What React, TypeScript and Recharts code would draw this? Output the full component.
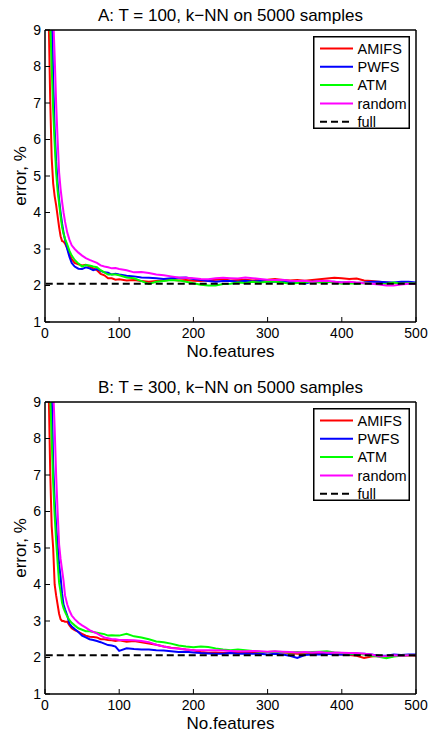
import React from 'react';
import { LineChart, Line, XAxis, YAxis, Legend } from 'recharts';

const FEATURES = [
  1, 3, 5, 7, 9, 11, 13, 15, 17, 19,
  21, 23, 25, 27, 30, 33, 36, 40, 45, 50,
  55, 60, 65, 70, 75, 80, 85, 90, 95, 100,
  110, 120, 130, 140, 150, 160, 170, 180, 190, 200,
  210, 220, 230, 240, 250, 260, 270, 280, 290, 300,
  310, 320, 330, 340, 350, 360, 370, 380, 390, 400,
  410, 420, 430, 440, 450, 460, 470, 480, 490, 500,
];

const A_AMIFS = [
  13.0, 11.0, 9.3, 7.1, 5.5, 4.8, 4.45, 4.2, 3.9, 3.6,
  3.35, 3.22, 3.2, 3.15, 3.02, 2.85, 2.72, 2.62, 2.58, 2.55,
  2.57, 2.52, 2.47, 2.42, 2.32, 2.28, 2.2, 2.2, 2.16, 2.17,
  2.14, 2.15, 2.12, 2.1, 2.12, 2.14, 2.16, 2.14, 2.15, 2.13,
  2.12, 2.14, 2.16, 2.17, 2.14, 2.15, 2.16, 2.14, 2.15, 2.16,
  2.18, 2.15, 2.14, 2.15, 2.13, 2.15, 2.17, 2.19, 2.21, 2.2,
  2.18, 2.19, 2.14, 2.12, 2.1, 2.08, 2.06, 2.08, 2.06, 2.05,
];
const A_PWFS = [
  15, 13, 11.5, 10.3, 9.6, 7.6, 6.3, 5.4, 4.8, 4.35,
  4.0, 3.7, 3.45, 3.25, 3.0, 2.78, 2.62, 2.52, 2.46, 2.45,
  2.5, 2.47, 2.42, 2.45, 2.4, 2.36, 2.35, 2.3, 2.32, 2.3,
  2.27, 2.25, 2.22, 2.21, 2.2, 2.18, 2.2, 2.21, 2.22, 2.18,
  2.15, 2.12, 2.1, 2.12, 2.12, 2.1, 2.13, 2.11, 2.12, 2.1,
  2.11, 2.1, 2.09, 2.1, 2.05, 2.1, 2.11, 2.09, 2.1, 2.08,
  2.09, 2.07, 2.08, 2.1, 2.1, 2.09, 2.08, 2.1, 2.1, 2.08,
];
const A_ATM = [
  14, 11.5, 10.2, 9.2, 8.0, 6.8, 5.9, 5.1, 4.6, 4.25,
  3.9, 3.6, 3.42, 3.28, 3.12, 2.95, 2.82, 2.7, 2.6, 2.52,
  2.56, 2.55, 2.52, 2.5, 2.42, 2.36, 2.3, 2.3, 2.3, 2.28,
  2.22, 2.2, 2.12, 2.04, 2.1, 2.12, 2.15, 2.14, 2.1, 2.06,
  2.02, 2.0, 2.0, 2.04, 2.05, 2.08, 2.07, 2.1, 2.08, 2.1,
  2.1, 2.08, 2.05, 2.07, 2.08, 2.1, 2.08, 2.1, 2.08, 2.05,
  2.06, 2.05, 2.07, 2.05, 2.04, 2.05, 2.08, 2.05, 2.06, 2.06,
];
const A_RANDOM = [
  16, 13.5, 12, 10.8, 10.0, 9.4, 8.3, 7.0, 6.0, 5.1,
  4.65, 4.3, 4.0, 3.75, 3.45, 3.25, 3.1, 3.0, 2.9, 2.82,
  2.75, 2.7, 2.66, 2.62, 2.55, 2.52, 2.5, 2.47, 2.48, 2.45,
  2.42, 2.36, 2.37, 2.34, 2.3, 2.28, 2.25, 2.22, 2.21, 2.2,
  2.18, 2.17, 2.2, 2.21, 2.2, 2.19, 2.22, 2.2, 2.18, 2.16,
  2.15, 2.16, 2.13, 2.12, 2.13, 2.1, 2.12, 2.13, 2.1, 2.08,
  2.1, 2.08, 2.06, 2.05, 2.03, 2.0, 2.0, 2.03, 2.05, 2.05,
];

const B_AMIFS = [
  13, 11, 9.3, 7.1, 5.6, 5.0, 4.0, 3.7, 3.45, 3.2,
  3.05, 3.0, 3.0, 2.98, 2.98, 2.88, 2.8, 2.75, 2.7, 2.65,
  2.6, 2.57, 2.56, 2.55, 2.5, 2.5, 2.48, 2.47, 2.45, 2.47,
  2.43, 2.45, 2.42, 2.38, 2.35, 2.3, 2.27, 2.25, 2.22, 2.2,
  2.15, 2.13, 2.14, 2.12, 2.13, 2.12, 2.14, 2.15, 2.14, 2.15,
  2.16, 2.14, 2.12, 2.1, 2.1, 2.1, 2.11, 2.1, 2.09, 2.08,
  2.07, 2.05, 1.99, 2.03, 2.05, 2.0, 2.04, 2.05, 2.06, 2.05,
];
const B_PWFS = [
  15, 12.5, 11.0, 10.0, 9.3, 7.3, 6.3, 5.6, 5.1, 4.55,
  4.2, 3.75, 3.45, 3.32, 3.15, 2.92, 2.85, 2.78, 2.7, 2.6,
  2.55, 2.5, 2.48, 2.45, 2.42, 2.38, 2.34, 2.33, 2.3, 2.18,
  2.25, 2.23, 2.22, 2.22, 2.2, 2.19, 2.17, 2.15, 2.16, 2.14,
  2.12, 2.11, 2.1, 2.1, 2.12, 2.1, 2.11, 2.1, 2.1, 2.08,
  2.1, 2.08, 2.05, 1.99, 2.07, 2.08, 2.08, 2.1, 2.08, 2.08,
  2.08, 2.1, 2.1, 2.08, 2.05, 2.05, 2.08, 2.07, 2.08, 2.08,
];
const B_ATM = [
  14, 11.5, 10.2, 9.2, 8.0, 6.8, 5.9, 5.2, 4.6, 4.05,
  3.8, 3.5, 3.35, 3.25, 3.12, 3.02, 2.95, 2.88, 2.8, 2.76,
  2.72, 2.72, 2.7, 2.68, 2.66, 2.64, 2.6, 2.61, 2.6, 2.6,
  2.65, 2.58, 2.55, 2.5, 2.44, 2.42, 2.38, 2.33, 2.3, 2.28,
  2.3, 2.29, 2.25, 2.22, 2.2, 2.22, 2.2, 2.18, 2.16, 2.15,
  2.16, 2.15, 2.14, 2.15, 2.14, 2.15, 2.16, 2.17, 2.14, 2.12,
  2.1, 2.1, 2.08, 2.05, 2.02, 1.98, 2.03, 2.05, 2.06, 2.06,
];
const B_RANDOM = [
  16, 13.5, 12, 10.8, 10.0, 9.4, 8.3, 7.0, 6.0, 5.1,
  4.7, 4.4, 4.1, 3.7, 3.45, 3.28, 3.15, 3.05, 2.95, 2.88,
  2.82, 2.75, 2.7, 2.66, 2.6, 2.55, 2.53, 2.5, 2.5, 2.48,
  2.48, 2.47, 2.45, 2.42, 2.35, 2.3, 2.26, 2.24, 2.22, 2.2,
  2.2, 2.2, 2.2, 2.19, 2.18, 2.17, 2.17, 2.18, 2.17, 2.16,
  2.17, 2.16, 2.15, 2.14, 2.15, 2.14, 2.15, 2.13, 2.14, 2.13,
  2.12, 2.12, 2.1, 2.08, 2.03, 2.04, 2.06, 2.05, 2.06, 2.06,
];

const FULL_A = 2.05;
const FULL_B = 2.06;

const TITLES = ['A: T = 100, k\u2212NN on 5000 samples', 'B: T = 300, k\u2212NN on 5000 samples'];
const X_LABEL = 'No.features';
const Y_LABEL = 'error, %';
const X_TICKS = [0, 100, 200, 300, 400, 500];
const Y_TICKS = [1, 2, 3, 4, 5, 6, 7, 8, 9];

const SERIES = [
  { key: 'amifs', name: 'AMIFS', color: '#ff0000', dash: undefined as string | undefined },
  { key: 'pwfs', name: 'PWFS', color: '#0000ff', dash: undefined as string | undefined },
  { key: 'atm', name: 'ATM', color: '#00ff00', dash: undefined as string | undefined },
  { key: 'random', name: 'random', color: '#ff00ff', dash: undefined as string | undefined },
  { key: 'full', name: 'full', color: '#000000', dash: '7 4' },
];

const FONT = '"Liberation Sans", Arial, Helvetica, sans-serif';

const buildRows = (amifs: number[], pwfs: number[], atm: number[], random: number[], full: number) =>
  FEATURES.map((f, i) => ({ f, amifs: amifs[i], pwfs: pwfs[i], atm: atm[i], random: random[i], full }));

const DATA_A = buildRows(A_AMIFS, A_PWFS, A_ATM, A_RANDOM, FULL_A);
const DATA_B = buildRows(B_AMIFS, B_PWFS, B_ATM, B_RANDOM, FULL_B);

const LegendBox = () => (
  <svg width={97} height={93} style={{ display: 'block' }}>
    <rect x={0.75} y={0.75} width={95.5} height={91.5} fill="#fff" stroke="#000" strokeWidth={1.5} />
    {SERIES.map((s, i) => {
      const y = 12.5 + i * 18.3;
      return (
        <g key={s.key}>
          <line x1={7} x2={40} y1={y} y2={y} stroke={s.color} strokeWidth={2} strokeDasharray={s.dash} />
          <text x={44.5} y={y + 5.2} fontSize={14.5} fill="#000" fontFamily={FONT}>
            {s.name}
          </text>
        </g>
      );
    })}
  </svg>
);

const vbOf = (p: any) => p?.viewBox ?? { x: 0, y: 0, width: 0, height: 0 };

const makeTitle = (title: string) => (p: any) => {
  const vb = vbOf(p);
  return (
    <text x={vb.x + vb.width / 2} y={vb.y + vb.height - 9.5} textAnchor="middle" fontSize={17} fill="#000" fontFamily={FONT}>
      {title}
    </text>
  );
};

const XLabel = (p: any) => {
  const vb = vbOf(p);
  return (
    <text x={vb.x + vb.width / 2} y={vb.y + 35} textAnchor="middle" fontSize={17} fill="#000" fontFamily={FONT}>
      {X_LABEL}
    </text>
  );
};

const YLabel = (p: any) => {
  const vb = vbOf(p);
  const cx = vb.x + 11;
  const cy = vb.y + vb.height / 2;
  return (
    <text x={cx} y={cy} transform={`rotate(-90 ${cx} ${cy})`} textAnchor="middle" fontSize={17} fill="#000" fontFamily={FONT}>
      {Y_LABEL}
    </text>
  );
};

const axisLine = { stroke: '#000', strokeWidth: 1.5 };
const tickLine = { stroke: '#000', strokeWidth: 1 };
const tickStyle = { fontSize: 14, fill: '#000', fontFamily: FONT };

const Panel = ({ data, title, height, bottom }: { data: any[]; title: string; height: number; bottom: number }) => (
  <LineChart width={433} height={height} data={data} margin={{ top: 29, right: 16, bottom, left: 15 }}>
    <XAxis
      dataKey="f"
      type="number"
      domain={[0, 500]}
      ticks={X_TICKS}
      allowDataOverflow
      height={20}
      tickSize={-5}
      tickMargin={11}
      tick={tickStyle}
      tickLine={tickLine}
      axisLine={axisLine}
      label={XLabel}
    />
    <XAxis
      xAxisId="top"
      dataKey="f"
      orientation="top"
      type="number"
      domain={[0, 500]}
      ticks={X_TICKS}
      allowDataOverflow
      height={1}
      tickSize={-5}
      tick={false}
      tickLine={tickLine}
      axisLine={axisLine}
      label={makeTitle(title)}
    />
    <YAxis
      type="number"
      domain={[1, 9]}
      ticks={Y_TICKS}
      allowDataOverflow
      width={30}
      tickSize={-5}
      tickMargin={9}
      tick={tickStyle}
      tickLine={tickLine}
      axisLine={axisLine}
      label={YLabel}
    />
    <YAxis
      yAxisId="right"
      orientation="right"
      type="number"
      domain={[1, 9]}
      ticks={Y_TICKS}
      allowDataOverflow
      width={1}
      tickSize={-5}
      tick={false}
      tickLine={tickLine}
      axisLine={axisLine}
    />
    {SERIES.map((s) => (
      <Line
        key={s.key}
        dataKey={s.key}
        name={s.name}
        type="linear"
        stroke={s.color}
        strokeWidth={2}
        strokeDasharray={s.dash}
        dot={false}
        activeDot={false}
        isAnimationActive={false}
      />
    ))}
    <Line
      dataKey="full"
      xAxisId="top"
      yAxisId="right"
      stroke="none"
      dot={false}
      activeDot={false}
      legendType="none"
      isAnimationActive={false}
    />
    <Legend
      layout="vertical"
      align="center"
      verticalAlign="middle"
      content={() => <LegendBox />}
      wrapperStyle={{ left: 313, top: 35.5, width: 97, height: 93, margin: 0, padding: 0 }}
    />
  </LineChart>
);

export default function App() {
  return (
    <div style={{ position: 'absolute', left: 0, top: 0, width: 433, height: 733, background: '#fff', fontFamily: FONT }}>
      <div style={{ position: 'absolute', left: 0, top: 0 }}>
        <Panel data={DATA_A} title={TITLES[0]} height={372} bottom={30} />
      </div>
      <div style={{ position: 'absolute', left: 0, top: 372 }}>
        <Panel data={DATA_B} title={TITLES[1]} height={361} bottom={19} />
      </div>
    </div>
  );
}
